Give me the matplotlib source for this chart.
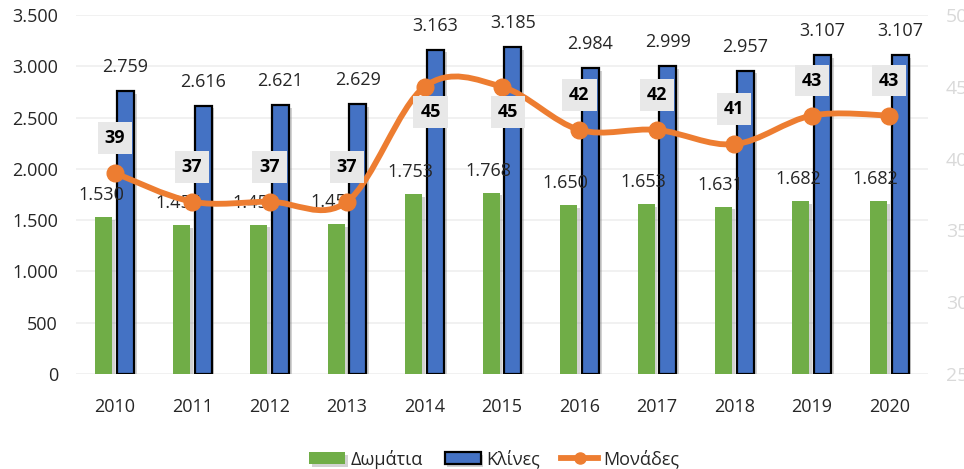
import matplotlib
matplotlib.use("Agg")
import matplotlib.pyplot as plt
import numpy as np
from matplotlib.path import Path
from matplotlib.patches import PathPatch
from matplotlib.ticker import FuncFormatter
import matplotlib.patheffects as pe

years = [2010, 2011, 2012, 2013, 2014, 2015, 2016, 2017, 2018, 2019, 2020]
rooms = [1530, 1454, 1456, 1459, 1753, 1768, 1650, 1653, 1631, 1682, 1682]
beds = [2759, 2616, 2621, 2629, 3163, 3185, 2984, 2999, 2957, 3107, 3107]
units = [39, 37, 37, 37, 45, 45, 42, 42, 41, 43, 43]

GREEN = "#70AD47"
BLUE = "#4472C4"
ORANGE = "#ED7D31"
TEXT = "#262626"
FS = 13

plt.rcParams["font.family"] = ["Open Sans", "DejaVu Sans"]


def dots(v, _=None):
    return f"{int(v):,}".replace(",", ".")


fig = plt.figure(figsize=(9.64, 4.69), dpi=100)
ax = fig.add_axes([76 / 964, 95 / 469, 852 / 964, 359 / 469])
ax2 = ax.twinx()

x = np.arange(len(years))
w = 0.22
shadow = [pe.withSimplePatchShadow(offset=(2, -2), shadow_rgbFace="#808080", alpha=0.35)]
b1 = ax.bar(x - 0.14, rooms, w, color=GREEN, zorder=3, path_effects=shadow)
b2 = ax.bar(x + 0.14, beds, w, color=BLUE, edgecolor="black", linewidth=1.6,
            zorder=3, path_effects=shadow)

# value labels above the bars
for xi, v in zip(x, rooms):
    ax.annotate(dots(v), (xi - 0.14, v), xytext=(-3, 22), textcoords="offset pixels",
                ha="center", va="center", fontsize=FS, color=TEXT, zorder=5)
for xi, v in zip(x, beds):
    ax.annotate(dots(v), (xi + 0.14, v), xytext=(0, 24), textcoords="offset pixels",
                ha="center", va="center", fontsize=FS, color=TEXT, zorder=5)

ax.set_xlim(-0.5, len(years) - 0.5)
ax.set_ylim(0, 3500)
ax.set_yticks(range(0, 3501, 500))
ax.yaxis.set_major_formatter(FuncFormatter(dots))
ax.set_xticks(x)
ax.set_xticklabels([str(y) for y in years])
ax.tick_params(axis="y", length=0, pad=13, labelsize=FS, labelcolor=TEXT)
ax.tick_params(axis="x", length=0, pad=17, labelsize=FS, labelcolor=TEXT)
ax.grid(axis="y", color="#EFEFEF", linewidth=1.2, zorder=0)
ax.set_axisbelow(True)
for s in list(ax.spines.values()) + list(ax2.spines.values()):
    s.set_visible(False)

# smoothed line (Catmull-Rom drawn as Bezier path, like Excel's smoothed line)
pts = np.column_stack([x, units]).astype(float)
verts = [tuple(pts[0])]
codes = [Path.MOVETO]
for i in range(len(pts) - 1):
    p0 = pts[i - 1] if i > 0 else pts[i]
    p1, p2 = pts[i], pts[i + 1]
    p3 = pts[i + 2] if i + 2 < len(pts) else pts[i + 1]
    verts += [tuple(p1 + (p2 - p0) / 6), tuple(p2 - (p3 - p1) / 6), tuple(p2)]
    codes += [Path.CURVE4] * 3
ax2.add_patch(PathPatch(Path(verts, codes), fill=False, edgecolor=ORANGE,
                        linewidth=4.2, capstyle="round", joinstyle="round", zorder=4))
ax2.plot(x, units, "o", color=ORANGE, markersize=12, zorder=5)

below = {4, 5}
for i, (xi, v) in enumerate(zip(x, units)):
    off = (6, -25) if i in below else (0, 35)
    ax2.annotate(str(v), (xi, v), xytext=off, textcoords="offset pixels",
                 ha="center", va="center", fontsize=FS, fontweight="bold",
                 color="black", zorder=6,
                 bbox=dict(boxstyle="square,pad=0.38", facecolor="#E8E8E8",
                           edgecolor="none"))

ax2.set_ylim(25, 50)
ax2.set_yticks(range(25, 51, 5))
ax2.tick_params(axis="y", length=0, pad=13, labelsize=FS + 1, labelcolor="#D9D9D9")

line_handle, = ax2.plot([], [], color=ORANGE, lw=4.2, marker="o", ms=8)
fig.legend([b1, b2, line_handle], ["Δωμάτια", "Κλίνες", "Μονάδες"], loc="center",
           bbox_to_anchor=(494 / 964, 10 / 469), ncol=3, frameon=False,
           fontsize=FS, handlelength=2.0, handleheight=0.6, handletextpad=0.3,
           columnspacing=1.2, labelcolor=TEXT)

fig.savefig("out.png", dpi=100)
